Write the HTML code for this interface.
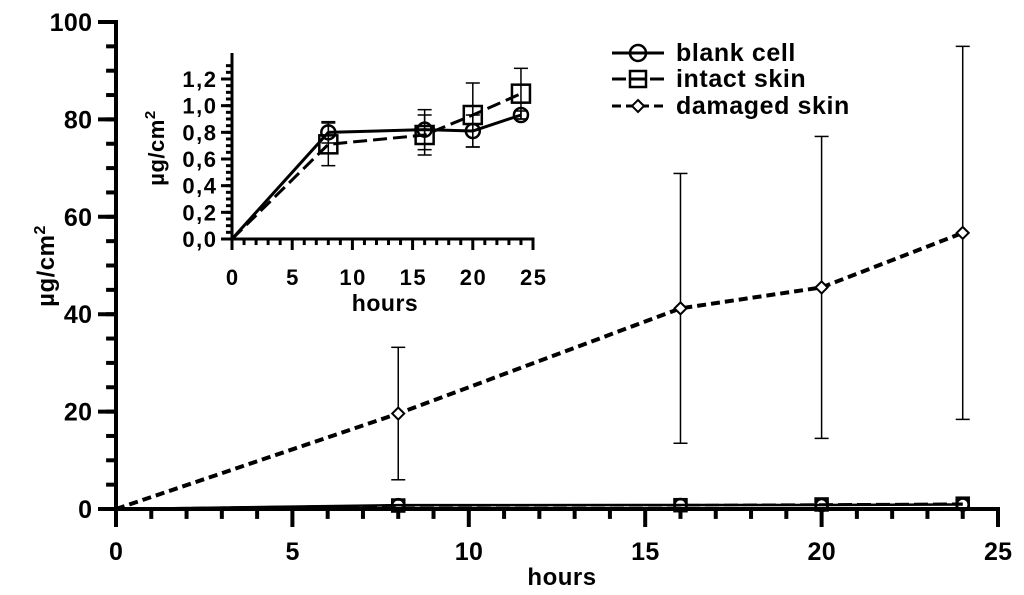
<!DOCTYPE html>
<html><head><meta charset="utf-8"><style>
body{margin:0;background:#fff}
svg{display:block;font-family:"Liberation Sans",Arial,sans-serif;font-weight:bold}
</style></head><body>
<svg id="c" width="1024" height="595"></svg>
<script>
const hours=[0,8,16,20,24];
const blank=[0,0.80,0.82,0.81,0.93];
const blankErr=[0,0.08,0.15,0.12,0.03];
const intact=[0,0.71,0.78,0.93,1.09];
const intactErr=[0,0.16,0.15,0.24,0.19];
const damaged=[0,19.6,41.2,45.5,56.7];
const damagedErr=[0,13.6,27.7,31.0,38.3];
const mainYTicks=[0,20,40,60,80,100];
const mainXTicks=[0,5,10,15,20,25];
const insetYTicks=["0,0","0,2","0,4","0,6","0,8","1,0","1,2"];
const insetXTicks=[0,5,10,15,20,25];

const NS="http://www.w3.org/2000/svg";
const svg=document.getElementById('c');
function mk(t,a,p){const e=document.createElementNS(NS,t);for(const k in a)e.setAttribute(k,a[k]);(p||svg).appendChild(e);return e;}
const mx=v=>116+v*(998-116)/25, my=v=>509-v*(509-22)/100;
const ix=v=>232+v*(533-232)/25, iy=v=>239-v*(239-79)/1.2;

function axes(sx,sy,xmax,ymax,xt,ytVals,ytLabels,minorY,lw,fs,ls,majLen,labGap,xLabY,g,yTop){
  let a=mk('line',{x1:sx(0)-lw/2,y1:sy(0),x2:sx(xmax)+lw/2,y2:sy(0),stroke:'#000','stroke-width':lw},g);
  
  let b=mk('line',{x1:sx(0),y1:sy(0)+lw/2,x2:sx(0),y2:yTop,stroke:'#000','stroke-width':lw},g);
  
  for(let v=0;v<=xmax;v++){const maj=v%5==0;
    mk('line',{x1:sx(v),y1:sy(0),x2:sx(v),y2:sy(0)+(maj?majLen:majLen*0.55),stroke:'#000','stroke-width':lw},g);}
  xt.forEach(v=>{const t=mk('text',{x:sx(v)+ls/2,y:xLabY,'text-anchor':'middle','font-size':fs,'letter-spacing':ls},g);t.textContent=v;
    });
  for(let v=0;v<=ymax+1e-9;v+=minorY){
    mk('line',{x1:sx(0),y1:sy(v),x2:sx(0)-majLen*0.55,y2:sy(v),stroke:'#000','stroke-width':lw},g);}
  ytVals.forEach((v,i)=>{mk('line',{x1:sx(0),y1:sy(v),x2:sx(0)-majLen,y2:sy(v),stroke:'#000','stroke-width':lw},g);
    const t=mk('text',{x:sx(0)-labGap+ls,y:sy(v)+fs*0.36,'text-anchor':'end','font-size':fs,'letter-spacing':ls},g);t.textContent=ytLabels[i];
    });
}
function series(sx,sy,vals,err,dash,marker,size,lw,g,name){
  const sg=mk('g',{},g);
  mk('polyline',{points:hours.map((h,i)=>sx(h)+','+sy(vals[i])).join(' '),fill:'none',stroke:'#000','stroke-width':lw,'stroke-dasharray':dash},sg);
  hours.forEach((h,i)=>{if(i==0)return;const x=sx(h);
    if(err[i]>0){mk('line',{x1:x,y1:sy(vals[i]-err[i]),x2:x,y2:sy(vals[i]+err[i]),stroke:'#000','stroke-width':1.5},sg);
      [vals[i]-err[i],vals[i]+err[i]].forEach(e=>mk('line',{x1:x-7,y1:sy(e),x2:x+7,y2:sy(e),stroke:'#000','stroke-width':1.5},sg));}
    drawMarker(marker,x,sy(vals[i]),size,sg);});
}
function drawMarker(m,x,y,s,g){
  if(m=='circle')mk('circle',{cx:x,cy:y,r:s,fill:'none',stroke:'#000','stroke-width':2.5},g);
  else if(m=='square')mk('rect',{x:x-s,y:y-s,width:2*s,height:2*s,fill:'none',stroke:'#000','stroke-width':2.5},g);
  else mk('polygon',{points:`${x},${y-s} ${x+s},${y} ${x},${y+s} ${x-s},${y}`,fill:'#fff',stroke:'#000','stroke-width':2},g);
}
const gm=mk('g',{});
axes(mx,my,25,100,mainXTicks,mainYTicks,mainYTicks,5,4,25,0.3,18,24,560,gm,my(100)-2);
series(mx,my,damaged,damagedErr,'9,5','diamond',6,4,gm,'series-damaged-skin');
series(mx,my,intact,intactErr.map(()=>0),'14,5','square',6,2.5,gm,'series-intact-skin');
series(mx,my,blank,blankErr.map(()=>0),'','circle',6,2.5,gm,'series-blank-cell');
let t=mk('text',{x:562,y:585,'text-anchor':'middle','font-size':24,'letter-spacing':0.5});t.textContent='hours';

t=mk('text',{transform:'translate(54,266) rotate(-90)','text-anchor':'middle','font-size':24,'letter-spacing':0.5});t.innerHTML='µg/cm<tspan font-size="16" dy="-9">2</tspan>';

const gi=mk('g',{});
axes(ix,iy,25,1.3,insetXTicks,[0,0.2,0.4,0.6,0.8,1.0,1.2],insetYTicks,0.05,3,22,1.5,11,16,285,gi,53);
series(ix,iy,intact,intactErr,'14,6','square',9,3,gi,'inset-intact-skin');
series(ix,iy,blank,blankErr,'','circle',7,3,gi,'inset-blank-cell');
t=mk('text',{x:385,y:311,'text-anchor':'middle','font-size':23,'letter-spacing':0.5});t.textContent='hours';

t=mk('text',{transform:'translate(164,148) rotate(-90)','text-anchor':'middle','font-size':22,'letter-spacing':0.5});t.innerHTML='µg/cm<tspan font-size="15" dy="-9">2</tspan>';

const lg=mk('g',{});
[['blank cell','','circle',53],['intact skin','14,5','square',79],['damaged skin','9,5','diamond',106]].forEach(r=>{
  const e=mk('g',{},lg);
  mk('line',{x1:612,y1:r[3],x2:664,y2:r[3],stroke:'#000','stroke-width':3,'stroke-dasharray':r[1]},e);
  drawMarker(r[2],638,r[3],r[2]=='diamond'?6:8,e);
  const tx=mk('text',{x:676,y:r[3]+8,'font-size':25,'letter-spacing':0.6},e);tx.textContent=r[0];
});
</script>
</body></html>
